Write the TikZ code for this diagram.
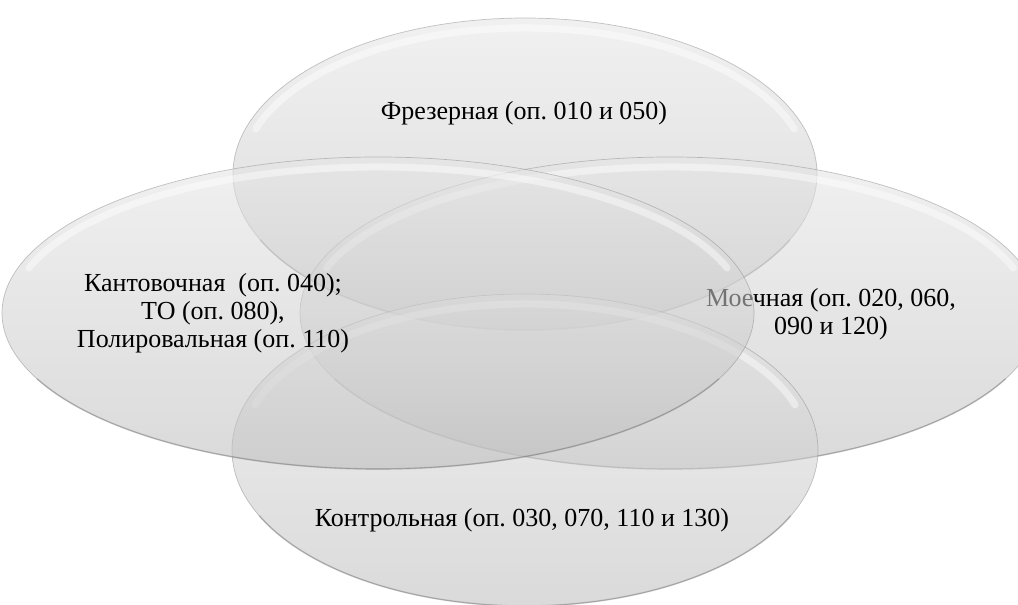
\documentclass[tikz,border=0pt]{standalone}
\usepackage{fontspec}
\setmainfont{Liberation Serif}
\usetikzlibrary{shapes.geometric}
\frenchspacing
\begin{document}
\begin{tikzpicture}[x=1pt,y=1pt,
  venn/.style={ellipse, inner sep=0pt, outer sep=0pt,
    top color=black!10, bottom color=black!26, fill opacity=0.55,
    draw=black!45, draw opacity=0.5, line width=0.7pt},
  hl/.style={draw=white, line width=7pt, draw opacity=0.45, line cap=round},
  rim/.style={draw=black!60, line width=1.6pt, draw opacity=0.3, line cap=round},
  lbl/.style={align=center, text=black, font=\fontsize{26}{28}\selectfont, inner sep=0pt}]
\clip (0,0) rectangle (1018,605);
\fill[white] (0,0) rectangle (1018,605);

% top ellipse
\node[venn, minimum width=584pt, minimum height=312pt] (top) at (525,431) {};
\draw[hl] (top.center) ++(18:283 and 146) arc[start angle=18, end angle=162, x radius=283, y radius=146];
\draw[rim] (top.center) ++(205:292 and 156) arc[start angle=205, end angle=335, x radius=292, y radius=156];
\node[lbl] (ttop) at (524,492) {Фрезерная (оп. 010 и 050)};

% right ellipse
\node[venn, minimum width=740pt, minimum height=312pt] (right) at (670,292) {};
\draw[hl] (right.center) ++(18:361 and 146) arc[start angle=18, end angle=162, x radius=361, y radius=146];
\draw[rim] (right.center) ++(205:370 and 156) arc[start angle=205, end angle=335, x radius=370, y radius=156];
\node[lbl] (tright) at (831,291) {Моечная (оп. 020, 060,\\090 и 120)};

% bottom ellipse
\node[venn, minimum width=586pt, minimum height=312pt] (bottom) at (525,155) {};
\draw[hl] (bottom.center) ++(18:284 and 146) arc[start angle=18, end angle=162, x radius=284, y radius=146];
\draw[rim] (bottom.center) ++(205:293 and 156) arc[start angle=205, end angle=335, x radius=293, y radius=156];
\node[lbl] (tbottom) at (522,85) {Контрольная (оп. 030, 070, 110 и 130)};

% left ellipse
\node[venn, minimum width=752pt, minimum height=312pt] (left) at (378,292) {};
\draw[hl] (left.center) ++(18:367 and 146) arc[start angle=18, end angle=162, x radius=367, y radius=146];
\draw[rim] (left.center) ++(205:376 and 156) arc[start angle=205, end angle=335, x radius=376, y radius=156];
\node[lbl] (tleft) at (213,292) {Кантовочная~ (оп. 040);\\ТО (оп. 080),\\Полировальная (оп. 110)};
\end{tikzpicture}
\end{document}
